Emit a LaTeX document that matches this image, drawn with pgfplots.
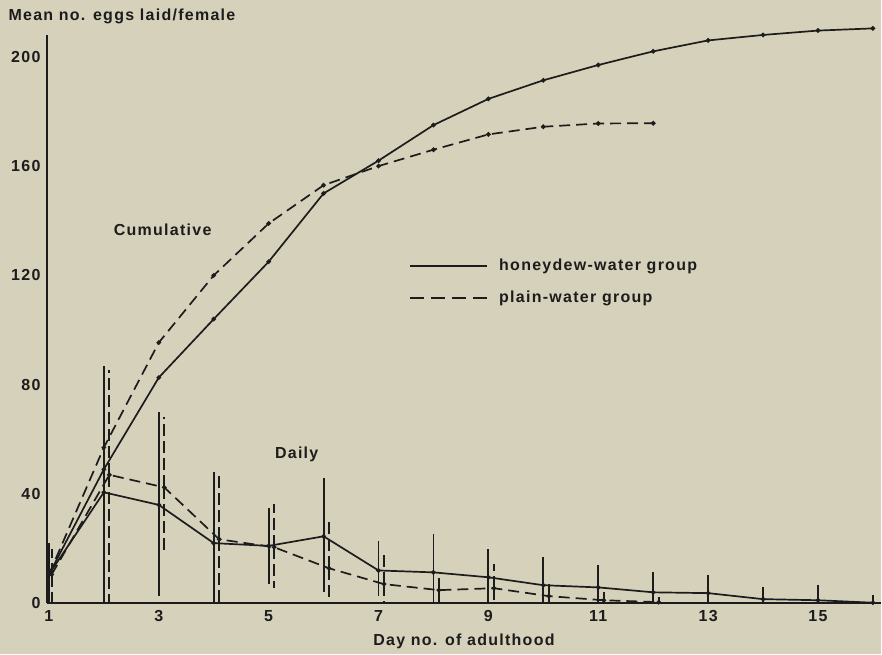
\documentclass[border=0pt]{standalone}
\usepackage{pgfplots}
\pgfplotsset{compat=1.18}
\usepackage{fontspec}
\setmainfont{Liberation Sans}[LetterSpace=8]
\usetikzlibrary{backgrounds}
\definecolor{bg}{RGB}{214,209,186}
\definecolor{ink}{RGB}{28,28,28}
\newcommand{\lab}{\fontsize{16}{19}\selectfont\bfseries}
\begin{document}
\begin{tikzpicture}
\begin{axis}[
  scale only axis,
  width=835pt, height=569pt,
  xmin=0.964, xmax=16.145,
  ymin=0, ymax=208,
  axis lines=left,
  axis line style={line width=2.2pt, ink, -},
  xtick={1,3,...,15},
  ytick={0,40,...,200},
  major tick length=0pt,
  tick label style={font=\lab, text=ink},
  /pgf/number format/assume math mode=true,
  yticklabel style={xshift=-3pt},
  xticklabel style={yshift=-4pt},
  xlabel={Day no. of adulthood},
  xlabel style={font=\lab, text=ink, at={(axis description cs:0.5,0)}, anchor=base, yshift=-42pt},
  clip=false,
  legend cell align=left,
  legend style={at={(axis cs:7.56,117.7)}, anchor=west, draw=none, fill=none,
    font=\lab, text=ink, row sep=15pt, inner sep=0pt,
    /tikz/every odd column/.append style={column sep=9pt}},
  legend image code/.code={\draw[#1,mark=none,line width=1.8pt] (0pt,0pt) -- (77pt,0pt);},
]
\coordinate (ll) at (axis description cs:0,0);
\coordinate (ul) at (axis description cs:0,1);
% cumulative honeydew
\addplot[ink, line width=1.7pt, mark=*, mark size=1.4pt] coordinates {
(1,10.5) (2,49) (3,82.6) (4,104) (5,125) (6,150) (7,162) (8,175) (9,184.6)
(10,191.4) (11,197) (12,202) (13,206) (14,208) (15,209.6) (16,210.4)};
\addlegendentry{honeydew-water group}
% cumulative plain
\addplot[ink, line width=1.7pt, dash pattern=on 11pt off 6pt, mark=*, mark size=1.4pt, mark options={solid},
  legend image post style={dash pattern=on 14pt off 7pt}] coordinates {
(1,10.5) (2,57) (3,95.4) (4,120) (5,139) (6,153) (7,160) (8,166) (9,171.6)
(10,174.4) (11,175.6) (12,175.7)};
\addlegendentry{plain-water group}
% daily honeydew
\addplot[ink, line width=1.7pt, mark=*, mark size=1.4pt, forget plot,
  error bars/.cd, y dir=both, y explicit, error mark=none,
  error bar style={line width=1.9pt, solid}] coordinates {
(1,10.5) += (0,11.5) -= (0,10.5)
(2,40.6) += (0,46.4) -= (0,40.6)
(3,36) += (0,34) -= (0,33.5)
(4,22) += (0,26) -= (0,22)
(5,21) += (0,13.7) -= (0,14)
(6,24.5) += (0,21.2) -= (0,20.5)
(7,12) += (0,10.6) -= (0,9.4)
(8,11.3) += (0,13.9) -= (0,11.3)
(9,9.5) += (0,10.5) -= (0,9.5)
(10,6.6) += (0,10.2) -= (0,6.6)
(11,5.8) += (0,8.1) -= (0,5.8)
(12,4.0) += (0,7.3) -= (0,4.0)
(13,3.7) += (0,6.6) -= (0,3.7)
(14,1.5) += (0,4.3) -= (0,1.5)
(15,1.1) += (0,5.5) -= (0,1.1)
(16,0.2) += (0,2.8) -= (0,0.2)};
% daily plain
\addplot[ink, line width=1.7pt, dash pattern=on 11pt off 6pt, mark=*, mark size=1.4pt, mark options={solid}, forget plot,
  error bars/.cd, y dir=both, y explicit, error mark=none,
  error bar style={line width=1.9pt, dash pattern=on 12pt off 5pt}] coordinates {
(1.05,10.5) += (0,9.5) -= (0,10.5)
(2.1,47) += (0,38.5) -= (0,47)
(3.1,42.4) += (0,25.6) -= (0,23.8)
(4.1,23.4) += (0,23) -= (0,23.4)
(5.1,20.5) += (0,16) -= (0,15)
(6.1,12.8) += (0,16.8) -= (0,12.8)
(7.1,7) += (0,11) -= (0,7)
(8.1,4.8) += (0,5.4) -= (0,4.8)
(9.1,5.5) += (0,8.7) -= (0,5.5)
(10.1,2.6) += (0,5.4) -= (0,2.6)
(11.1,1.1) += (0,2.9) -= (0,1.1)
(12.1,0.4) += (0,1.8) -= (0,0.4)};
\node[font=\lab, text=ink] at (axis cs:3.07,136.7) {Cumulative};
\node[font=\lab, text=ink] at (axis cs:5.51,54.5) {Daily};
\node[font=\lab, text=ink, anchor=base west, xshift=-42pt, yshift=14pt] at (ul) {Mean no. eggs laid/female};
\end{axis}
\begin{pgfonlayer}{background}
\fill[bg] ([shift={(-47pt,-51pt)}]ll) rectangle ([shift={(835pt,604pt)}]ll);
\end{pgfonlayer}
\end{tikzpicture}
\end{document}
